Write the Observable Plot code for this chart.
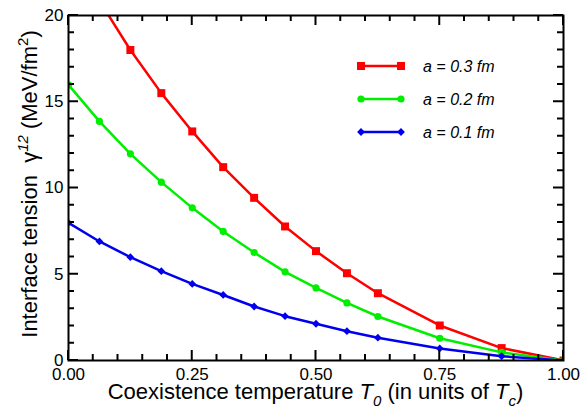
<!DOCTYPE html>
<html><head><meta charset="utf-8">
<script src="https://cdn.jsdelivr.net/npm/d3@7"></script>
<script src="https://cdn.jsdelivr.net/npm/@observablehq/plot@0.6"></script>
<style>body{margin:0;background:#fff}</style>
</head><body><div id="chart"></div>
<script>
// Coexistence temperature T0 (in units of Tc)
const temps = [0, 0.0625, 0.125, 0.1875, 0.25, 0.3125, 0.375, 0.4375, 0.5, 0.5625, 0.625, 0.75, 0.875, 1.0];
// Interface tension (MeV/fm^2)
const tension03 = [23.8, 20.85, 18.0, 15.5, 13.28, 11.21, 9.43, 7.77, 6.34, 5.06, 3.9, 2.03, 0.72, 0];
const tension02 = [15.98, 13.86, 11.98, 10.34, 8.85, 7.48, 6.26, 5.14, 4.21, 3.34, 2.55, 1.29, 0.47, 0];
const tension01 = [7.98, 6.9, 5.99, 5.18, 4.44, 3.8, 3.13, 2.57, 2.13, 1.7, 1.32, 0.7, 0.25, 0];
const seriesLabels = ["a = 0.3 fm", "a = 0.2 fm", "a = 0.1 fm"];
const seriesColors = ["#ff0000", "#00ee00", "#0000ee"];
const seriesSymbols = ["square", "circle", "diamond2"];
const seriesR = [4.5, 3.6, 3.5];
const xMajor = [0, 0.25, 0.5, 0.75, 1.0];
const xMinor = [0.05, 0.1, 0.15, 0.2, 0.3, 0.35, 0.4, 0.45, 0.55, 0.6, 0.65, 0.7, 0.8, 0.85, 0.9, 0.95];
const yMajor = [0, 5, 10, 15, 20];
const yMinor = [1, 2, 3, 4, 6, 7, 8, 9, 11, 12, 13, 14, 16, 17, 18, 19];

const allSeries = [tension03, tension02, tension01];
const rows = allSeries.flatMap((vals, i) => vals.map((v, j) => ({t: temps[j], v, s: i})));

const W = 581, H = 409;
const mL = 68, mR = 18, mT = 15, mB = 49;
const font = "'Liberation Sans', Arial, Helvetica, sans-serif";
const MAJ = 10, MIN = 6;

const marks = [];
allSeries.forEach((vals, i) => {
  const d = rows.filter(r => r.s === i);
  marks.push(Plot.line(d, {x: "t", y: "v", stroke: seriesColors[i], strokeWidth: 2.5, clip: true}));
  marks.push(Plot.dot(d, {x: "t", y: "v", symbol: seriesSymbols[i], r: seriesR[i], fill: seriesColors[i], stroke: "none", clip: true}));
});

const chart = Plot.plot({
  width: W, height: H,
  marginLeft: mL, marginRight: mR, marginTop: mT, marginBottom: mB,
  style: {fontFamily: font, fontSize: "17px", color: "black", background: "white"},
  x: {domain: [0, 1], axis: null},
  y: {domain: [0, 20], axis: null},
  marks: [
    ...marks,
    Plot.axisX({anchor: "bottom", ticks: xMajor, tickSize: 0, tickPadding: 7, tickFormat: d3.format(".2f"), label: null, fill: "black"}),
    Plot.axisY({anchor: "left", ticks: yMajor, tickSize: 0, tickPadding: 5, tickFormat: d3.format("d"), label: null, fill: "black"}),
    Plot.frame({stroke: "black", strokeWidth: 2})
  ]
});
document.getElementById("chart").appendChild(chart);

const svg = d3.select(chart);
const sx = chart.scale("x"), sy = chart.scale("y");
const x0 = sx.apply(0), x1 = sx.apply(1), y0 = sy.apply(0), y1 = sy.apply(20);

// Inward ticks on all four sides, positioned through Plot's own scales
const tg = svg.append("g");
function tick(xa, ya, xb, yb) {
  tg.append("line").attr("x1", xa).attr("y1", ya).attr("x2", xb).attr("y2", yb)
    .attr("stroke", "black").attr("stroke-width", 2);
}
[[xMajor, MAJ], [xMinor, MIN]].forEach(([ticks, len]) => ticks.forEach(t => {
  const x = sx.apply(t);
  tick(x, y0, x, y0 - len);
  tick(x, y1, x, y1 + len);
}));
[[yMajor, MAJ], [yMinor, MIN]].forEach(([ticks, len]) => ticks.forEach(t => {
  const y = sy.apply(t);
  tick(x0, y, x0 + len, y);
  tick(x1, y, x1 - len, y);
}));

// X axis title
const xt = svg.append("text").attr("x", (x0 + x1) / 2).attr("y", 399)
  .attr("text-anchor", "middle").attr("font-family", font).attr("font-size", 22).attr("fill", "black");
xt.append("tspan").text("Coexistence temperature ");
xt.append("tspan").attr("font-style", "italic").text("T");
xt.append("tspan").attr("font-style", "italic").attr("font-size", 15).attr("dy", 7).text("0");
xt.append("tspan").attr("dy", -7).text(" (in units of ");
xt.append("tspan").attr("font-style", "italic").text("T");
xt.append("tspan").attr("font-style", "italic").attr("font-size", 15).attr("dy", 7).text("c");
xt.append("tspan").attr("dy", -7).text(")");

// Y axis title
const yt = svg.append("text").attr("transform", "translate(37,184) rotate(-90)")
  .attr("text-anchor", "middle").attr("font-family", font).attr("font-size", 22).attr("fill", "black");
yt.append("tspan").text("Interface tension  γ");
yt.append("tspan").attr("font-style", "italic").attr("font-size", 15).attr("dy", -9).text("12");
yt.append("tspan").attr("dy", 9).text(" (MeV/fm");
yt.append("tspan").attr("font-size", 15).attr("dy", -9).text("2");
yt.append("tspan").attr("dy", 9).text(")");

// Legend
const legY = [66, 99, 132];
const symMap = {square: d3.symbolSquare, circle: d3.symbolCircle, diamond2: d3.symbolDiamond2};
seriesLabels.forEach((lab, i) => {
  const g = svg.append("g");
  g.append("line").attr("x1", 361).attr("x2", 401).attr("y1", legY[i]).attr("y2", legY[i])
    .attr("stroke", seriesColors[i]).attr("stroke-width", 2.5);
  const sym = d3.symbol(symMap[seriesSymbols[i]], Math.PI * seriesR[i] * seriesR[i]);
  [361, 401].forEach(x => g.append("path").attr("d", sym()).attr("transform", `translate(${x},${legY[i]})`).attr("fill", seriesColors[i]));
  g.append("text").attr("x", 423).attr("y", legY[i] + 6).attr("text-anchor", "start")
    .attr("font-family", font).attr("font-size", 16)
    .attr("font-style", "italic").attr("fill", "black").text(lab);
});
</script></body></html>
